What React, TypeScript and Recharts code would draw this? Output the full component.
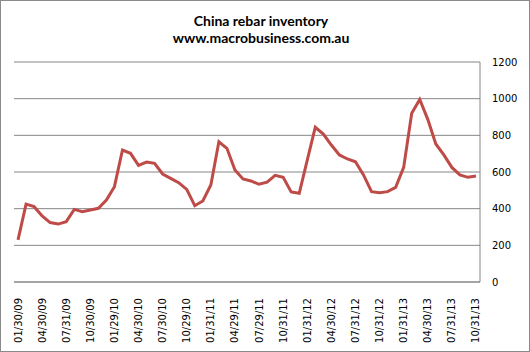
import { LineChart, Line, XAxis, YAxis, CartesianGrid } from "recharts";

const tickLabels = [
  "01/30/09", "04/30/09", "07/31/09", "10/30/09",
  "01/29/10", "04/30/10", "07/30/10", "10/29/10",
  "01/31/11", "04/29/11", "07/29/11", "10/31/11",
  "01/31/12", "04/30/12", "07/31/12", "10/31/12",
  "01/31/13", "04/30/13", "07/31/13", "10/31/13",
];

// monthly rebar inventory, Jan 2009 - Oct 2013
const inventory = [
  230, 425, 411, 360, 324, 316, 329, 396, 384, 393, 402, 447,
  520, 720, 702, 636, 654, 647, 589, 565, 542, 505, 416, 442,
  529, 765, 729, 611, 562, 551, 533, 545, 582, 571, 491, 484,
  665, 844, 807, 747, 693, 671, 656, 584, 493, 487, 493, 516,
  625, 920, 996, 887, 753, 693, 625, 584, 571, 578,
];

const yTicks = [0, 200, 400, 600, 800, 1000, 1200];

const data = inventory.map((value, i) => ({ idx: i, value }));
const xTicks = tickLabels.map((_, i) => i * 3);

const font = "DejaVu Sans";

const DateTick = (props: any) => {
  const { x, y, payload } = props;
  const label = tickLabels[Math.round(payload.value / 3)];
  const ty = y + 8;
  return (
    <text
      x={x}
      y={ty}
      transform={`rotate(-90 ${x} ${ty})`}
      textAnchor="end"
      dominantBaseline="central"
      fontSize={10}
      fontFamily={font}
      fill="#000"
    >
      {label}
    </text>
  );
};

const App = () => {
  return (
    <div
      style={{
        position: "absolute",
        left: 0,
        top: 0,
        width: 528,
        height: 350,
        border: "1px solid #8a8a8a",
        background: "#fff",
      }}
    >
      <div
        style={{
          position: "absolute",
          left: 0,
          width: 520,
          top: 11,
          textAlign: "center",
          fontFamily: "Lato, 'Open Sans', sans-serif",
          fontWeight: 700,
          fontSize: 14,
          lineHeight: "17px",
          color: "#000",
        }}
      >
        <div>China rebar inventory</div>
        <div>www.macrobusiness.com.au</div>
      </div>
      <div style={{ position: "absolute", left: -1, top: -1 }}>
        <LineChart
          width={530}
          height={352}
          data={data}
          margin={{ top: 62, right: 10, left: 14, bottom: 10 }}
        >
          <CartesianGrid vertical={false} stroke="#868686" strokeWidth={1} />
          <XAxis
            dataKey="idx"
            type="number"
            domain={[-0.5, 57.5]}
            ticks={xTicks}
            interval={0}
            height={60}
            axisLine={{ stroke: "#868686" }}
            tickLine={false}
            tick={<DateTick />}
          />
          <YAxis
            orientation="right"
            domain={[0, 1200]}
            ticks={yTicks}
            width={40}
            axisLine={{ stroke: "#868686" }}
            tickLine={false}
            tickSize={0}
            tickMargin={12}
            tick={{ fontSize: 10, fontFamily: font, fill: "#000", textAnchor: "start" }}
          />
          <Line
            type="linear"
            dataKey="value"
            stroke="#BE4B48"
            strokeWidth={3}
            dot={false}
            isAnimationActive={false}
          />
        </LineChart>
      </div>
    </div>
  );
};

export default App;
